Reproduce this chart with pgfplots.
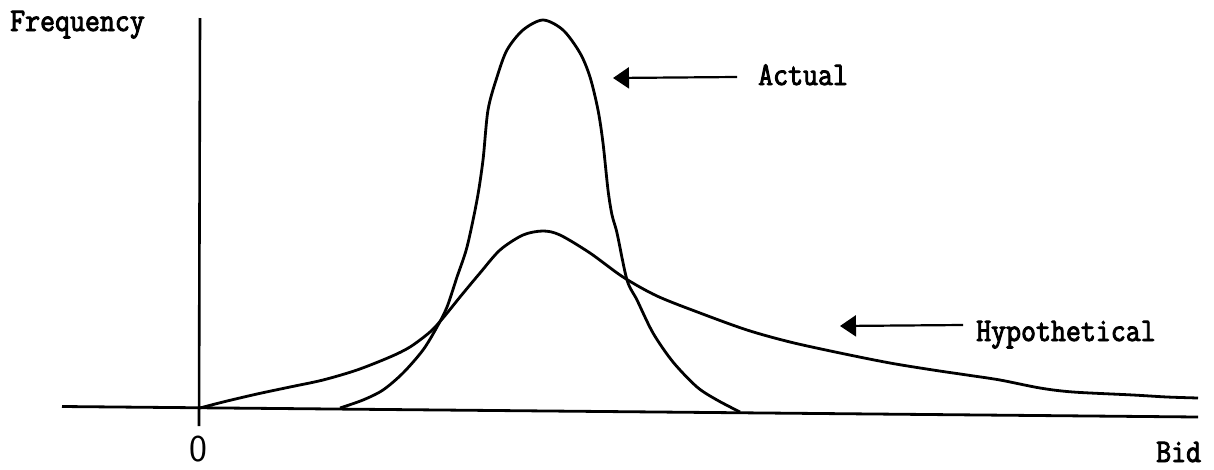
\documentclass[border=0pt]{standalone}
\usepackage{pgfplots}
\pgfplotsset{compat=1.18}
\usepackage{fontspec}
\setmonofont[FakeStretch=0.88, FakeBold=2.8]{Latin Modern Mono}
\usetikzlibrary{arrows.meta}

% Frequency distributions of bids, traced in drawing units (1 unit = 1pt, y grows downward)
\pgfplotstableread{
x y
200 408
223 402
257 394
290 387
323 380
357 370
390 357
410 347
430 332
443 318
460 297
480 273
500 250
523 235
543 231
560 235
590 253
623 277
657 296
700 313
747 330
790 342
840 353
890 363
933 370
967 375
1000 380
1040 388
1073 392
1133 395
1167 397
1198 398
}\hypothetical

\pgfplotstableread{
x y
340 408
363 400
383 390
403 373
423 350
437 327
447 307
457 277
467 247
477 200
483 160
488 110
497 77
507 50
523 30
543 20
563 30
580 53
590 77
598 110
603 143
608 190
612 215
617 233
627 280
637 300
653 333
673 362
697 387
717 400
740 412
}\actual

\begin{document}
\begin{tikzpicture}[every node/.style={inner sep=0pt, font=\ttfamily\fontsize{33}{40}\selectfont}]
\begin{axis}[
  scale only axis,
  width=1214pt, height=469pt,
  xmin=0, xmax=1214, ymin=0, ymax=469,
  y dir=reverse,
  hide axis,
  clip=false,
]
% axes
\addplot[black, line width=2.8pt] coordinates {(62,406.5) (1198,417)};
\addplot[black, line width=2.6pt] coordinates {(200,18) (199,426)};
% curves
\addplot[black, line width=2.8pt, smooth, tension=0.5] table {\actual};
\addplot[black, line width=2.8pt, smooth, tension=0.5] table {\hypothetical};
% pointers
\addplot[black, line width=2.2pt, {Triangle[length=16pt,width=21pt]}-] coordinates {(613,78) (737,77)};
\addplot[black, line width=2.2pt, {Triangle[length=16pt,width=21pt]}-] coordinates {(840,326) (963,325)};
% labels
\node[anchor=base west] at (axis cs:10,31) {Frequency};
\node[anchor=base west] at (axis cs:758,85) {Actual};
\node[anchor=base west] at (axis cs:976,341) {Hypothetical};
\node[anchor=base, font=\sffamily\fontsize{38}{44}\selectfont] at (axis cs:198,461) {0};
\node[anchor=base west] at (axis cs:1156,462) {Bid};
\end{axis}
% the page is exactly the axis area
\pgfresetboundingbox
\path (current axis.south west) rectangle (current axis.north east);
\end{tikzpicture}
\end{document}
